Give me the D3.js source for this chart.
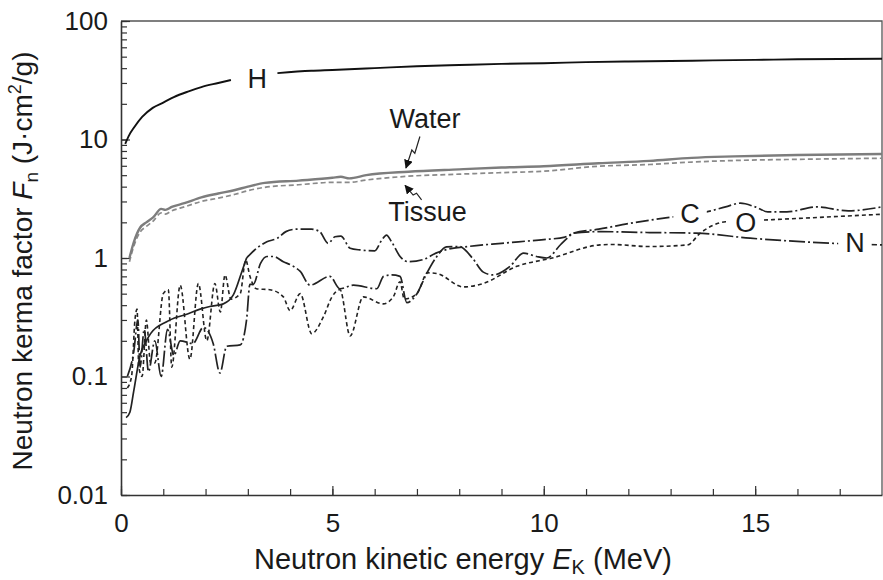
<!DOCTYPE html>
<html><head><meta charset="utf-8">
<script src="https://cdn.jsdelivr.net/npm/d3@7"></script>
<style>
body{margin:0;background:#fff}
svg{display:block}
text{font-family:"Liberation Sans",Arial,Helvetica,sans-serif;fill:#1a1a1a}
</style>
</head><body>
<svg id="chart" width="883" height="580"></svg>
<script>
// ---------- data (energy MeV, kerma factor) ----------
const xTickValues = [0, 5, 10, 15];
const xTickLabels = ["0", "5", "10", "15"];
const yTickValues = [0.01, 0.1, 1, 10, 100];
const yTickLabels = ["0.01", "0.1", "1", "10", "100"];

const hSeries = [[0.1,9.2],[0.2,11],[0.3,12.5],[0.5,15.5],[0.75,18.5],[1.0,20.5],[1.25,22.8],[1.6,25.5],[1.9,27.7],[2.3,30],[2.6,31.8],
  [3.0,null],
  [3.7,36.3],[4.5,38],[5,38.6],[6,40],[7,41.5],[8,42.5],[9,43.5],[10,44],[11,45],[12,45.5],[13,46],[14,46.5],[15,47],[16,47.5],[18,48]];

const waterSeries = [[0.2,1.0],[0.3,1.35],[0.45,1.8],[0.6,2.0],[0.76,2.2],[0.95,2.6],[1.05,2.55],[1.2,2.7],[1.5,2.9],[1.9,3.25],[2.3,3.5],[2.7,3.75],[3.0,4.0],[3.4,4.3],[4.2,4.5],[5.0,4.75],[5.2,4.85],[5.4,4.7],[5.8,5.0],[6.8,5.35],[8,5.6],[9,5.8],[10,5.95],[11.3,6.3],[12.5,6.6],[13.5,7.0],[14.5,7.2],[16,7.4],[18,7.55]];

const tissueSeries = [[0.2,0.93],[0.3,1.25],[0.45,1.65],[0.6,1.85],[0.76,2.05],[0.95,2.4],[1.05,2.35],[1.2,2.5],[1.5,2.7],[1.9,3.0],[2.3,3.2],[2.7,3.45],[3.0,3.7],[3.4,3.95],[4.2,4.15],[5.0,4.35],[5.4,4.35],[5.8,4.55],[6.8,4.9],[8,5.1],[9,5.25],[10,5.4],[11.3,5.95],[12.5,6.15],[13.5,6.45],[14.5,6.65],[16,6.8],[18,6.95]];

const cSeries = [[0.12,0.045],[0.21,0.05],[0.3,0.075],[0.45,0.15],[0.6,0.2],[0.7,0.23],[1.08,0.29],[1.25,0.31],[1.5,0.33],[1.87,0.37],[2.1,0.39],[2.42,0.41],[2.66,0.49],[2.85,0.75],[2.97,1.0],
  [3.2,1.2],[3.45,1.37],[3.7,1.47],[3.9,1.67],[4.15,1.75],[4.5,1.75],[4.7,1.67],[4.9,1.33],[5.06,1.51],[5.2,1.53],[5.42,1.21],[5.65,1.17],[6.0,1.15],[6.17,1.42],[6.28,1.56],[6.4,1.37],[6.6,1.03],[6.8,0.93],[7.15,0.97],[7.45,1.1],[7.8,1.2],[8.2,1.25],[9.0,1.33],[9.4,1.37],[10.0,1.43],[10.5,1.5],[10.7,1.62],[11.3,1.75],[12.0,1.95],[12.8,2.16],[13.85,2.45],[14.3,2.7],[14.65,2.9],[15.0,2.7],[15.3,2.45],[15.75,2.45],[16.45,2.7],[17.2,2.5],[18,2.7]];
const cSolidUpTo = 2.97; // smooth low-energy part of C drawn solid

const nSeries = [[0.15,0.1],[0.3,0.16],[0.4,0.3],[0.45,0.12],[0.55,0.25],[0.65,0.11],[0.8,0.2],[0.95,0.1],[1.1,0.25],[1.25,0.15],[1.4,0.2],[1.7,0.19],[1.95,0.26],[2.18,0.19],[2.34,0.107],[2.5,0.18],[2.82,0.185],[2.97,0.3],[3.05,0.6],[3.13,0.6],[3.3,0.9],[3.45,1.03],[3.6,1.03],[3.84,0.93],[4.08,0.85],[4.24,0.77],[4.47,0.59],[4.94,0.70],[5.18,0.55],[5.5,0.59],[6.05,0.55],[6.21,0.70],[6.4,0.72],[6.6,0.70],[6.76,0.42],[7.0,0.5],[7.23,0.74],[7.47,1.03],[7.7,1.24],[8.0,1.25],[8.33,0.98],[8.57,0.76],[8.8,0.72],[9.2,0.85],[9.52,1.1],[9.83,1.03],[10.07,1.0],[10.4,1.3],[10.6,1.52],[10.7,1.62],[11.33,1.67],[12.5,1.64],[13.6,1.62],[14.88,1.47],[16.85,1.33],[18,1.29]];

const oSeries = [[0.15,0.08],[0.25,0.1],[0.33,0.3],[0.38,0.37],[0.42,0.12],[0.5,0.1],[0.6,0.3],[0.7,0.13],[0.8,0.13],[1.0,0.5],[1.12,0.54],[1.2,0.12],[1.4,0.59],[1.63,0.14],[1.83,0.61],[2.03,0.2],[2.22,0.61],[2.35,0.35],[2.46,0.72],[2.6,0.45],[2.82,0.5],[2.95,0.96],[3.05,0.7],[3.2,0.55],[3.52,0.54],[3.84,0.47],[4.0,0.36],[4.24,0.5],[4.51,0.23],[4.79,0.32],[4.99,0.47],[5.18,0.54],[5.42,0.22],[5.73,0.47],[6.2,0.41],[6.44,0.47],[6.6,0.63],[6.7,0.45],[7.0,0.5],[7.25,0.75],[7.47,0.74],[8.1,0.57],[8.57,0.61],[9.36,0.85],[10.2,1.0],[11.33,1.29],[11.6,1.3],[12.5,1.25],[13.4,1.29],[13.7,1.62],[14.3,2.02],[15.2,2.09],[16.5,2.2],[18,2.34]];

const curveLabels = [
  {text:"H", x:3.22, y:27.2, box:false},
  {text:"C", x:13.46, y:1.97, box:true},
  {text:"O", x:14.78, y:1.66, box:true},
  {text:"N", x:17.36, y:1.12, box:true},
  {text:"Water", x:7.19, y:12.5, box:false},
  {text:"Tissue", x:7.25, y:2.05, box:false}
];
const waterArrow = [[7.07,10.6],[6.95,7.65],[6.88,8.15],[6.74,5.75]];
const tissueArrow = [[7.11,3.09],[6.99,3.52],[6.91,3.4],[6.72,4.1]];

// ---------- layout ----------
const L = 121, R = 882, T = 21, B = 495;
const svg = d3.select("#chart");
const x = d3.scaleLinear().domain([0, 18]).range([L, R]);
const y = d3.scaleLog().domain([0.01, 100]).range([B, T]);

const defs = svg.append("defs");
defs.append("clipPath").attr("id","clip")
  .append("rect").attr("x",L).attr("y",T).attr("width",R-L).attr("height",B-T);

// frame top/right
svg.append("path").attr("d",`M${L},${T}H${R}V${B}`).attr("fill","none").attr("stroke","#555").attr("stroke-width",1.3);

// axes
const axisColor = "#333";
const gy = svg.append("g").attr("transform",`translate(${L},0)`);
gy.call(d3.axisLeft(y).tickValues(y.ticks()).tickSize(-6).tickSizeOuter(0).tickFormat(""));
gy.call(g=>g.selectAll(".domain").remove());
const gyM = svg.append("g").attr("transform",`translate(${L},0)`);
gyM.call(d3.axisLeft(y).tickValues(yTickValues).tickSize(-9).tickSizeOuter(0).tickPadding(13)
  .tickFormat((d,i)=>yTickLabels[i]));
const gx = svg.append("g").attr("transform",`translate(0,${B})`);
gx.call(d3.axisBottom(x).tickValues(d3.range(0,18,1)).tickSize(-6).tickSizeOuter(0).tickFormat(""));
gx.call(g=>g.selectAll(".domain").remove());
const gxM = svg.append("g").attr("transform",`translate(0,${B})`);
gxM.call(d3.axisBottom(x).tickValues(xTickValues).tickSize(-9).tickSizeOuter(0).tickPadding(19)
  .tickFormat((d,i)=>xTickLabels[i]));
svg.selectAll(".tick line").attr("stroke",axisColor).attr("stroke-width",1.2);
svg.selectAll(".domain").attr("stroke",axisColor).attr("stroke-width",1.6);
svg.selectAll(".tick text").attr("font-size",26).attr("fill","#1a1a1a")
  .attr("font-family",'"Liberation Sans",Arial,sans-serif');

// lines
const line = d3.line().defined(d=>d[1]!=null).x(d=>x(d[0])).y(d=>y(d[1])).curve(d3.curveMonotoneX);
const lines = svg.append("g").attr("clip-path","url(#clip)");
function draw(data, stroke, width, dash){
  lines.append("path").datum(data).attr("d",line).attr("fill","none")
    .attr("stroke",stroke).attr("stroke-width",width)
    .attr("stroke-dasharray",dash).attr("stroke-linejoin","round");
}
draw(tissueSeries, "#8a8a8a", 1.7, "5,3");
draw(waterSeries, "#7d7d7d", 2.4, null);
draw(oSeries, "#222", 1.6, "4,3");
draw(nSeries, "#222", 1.7, "16,3,2,3");
draw(cSeries.filter(d=>d[0]<=cSolidUpTo), "#222", 1.7, null);
draw(cSeries.filter(d=>d[0]>=cSolidUpTo), "#222", 1.7, "13,3,2,3");
draw(hSeries, "#111", 1.9, null);

// labels
const lg = svg.append("g");
curveLabels.forEach(l=>{
  const t = lg.append("text").attr("x",x(l.x)).attr("y",y(l.y)).attr("text-anchor","middle")
    .attr("font-size",27).text(l.text);
  if(l.box){
    const b = t.node().getBBox();
    lg.insert("rect","text").attr("x",b.x-7).attr("y",y(l.y)-21).attr("width",b.width+14).attr("height",23).attr("fill","#fff");
  }
});

// arrows
defs.append("marker").attr("id","ah").attr("viewBox","0 0 10 10").attr("refX",9).attr("refY",5)
  .attr("markerWidth",9).attr("markerHeight",9).attr("markerUnits","userSpaceOnUse").attr("orient","auto")
  .append("path").attr("d","M0,0L10,5L0,10Z").attr("fill","#111");
const aline = d3.line().x(d=>x(d[0])).y(d=>y(d[1]));
[waterArrow, tissueArrow].forEach(a=>{
  svg.append("path").datum(a).attr("d",aline).attr("fill","none").attr("stroke","#222")
    .attr("stroke-width",1.2).attr("marker-end","url(#ah)");
});

// axis titles
const xt = svg.append("text").attr("x",463).attr("y",569).attr("text-anchor","middle").attr("font-size",29);
xt.append("tspan").text("Neutron kinetic energy ");
xt.append("tspan").attr("font-style","italic").text("E");
xt.append("tspan").attr("font-size",20).attr("dy",5).text("K");
xt.append("tspan").attr("dy",-5).text(" (MeV)");

const yt = svg.append("text").attr("transform",`translate(32,${(T+B)/2+3}) rotate(-90)`)
  .attr("text-anchor","middle").attr("font-size",28);
yt.append("tspan").text("Neutron kerma factor ");
yt.append("tspan").attr("font-style","italic").text("F");
yt.append("tspan").attr("font-size",19).attr("dy",6).text("n");
yt.append("tspan").attr("dy",-6).text(" (J·cm");
yt.append("tspan").attr("font-size",18).attr("dy",-11).text("2");
yt.append("tspan").attr("dy",11).text("/g)");
</script>
</body></html>
